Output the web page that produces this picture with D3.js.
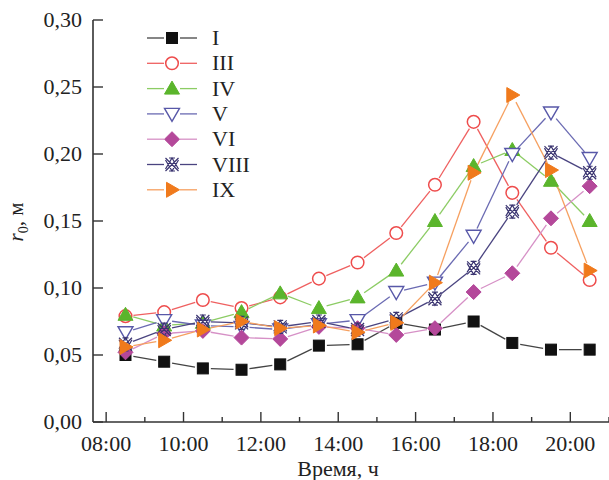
<!DOCTYPE html>
<html>
<head>
<meta charset="utf-8">
<script src="https://cdn.jsdelivr.net/npm/d3@7"></script>
<style>
  body { margin: 0; background: #fff; }
  svg { font-family: "Liberation Serif", "DejaVu Serif", serif; }
</style>
</head>
<body>
<svg id="chart" width="609" height="480"></svg>
<script>
const hours = [8.5, 9.5, 10.5, 11.5, 12.5, 13.5, 14.5, 15.5, 16.5, 17.5, 18.5, 19.5, 20.5];
const xTicks = [8, 10, 12, 14, 16, 18, 20];
const xTickLabels = ["08:00", "10:00", "12:00", "14:00", "16:00", "18:00", "20:00"];
const yTicks = [0, 0.05, 0.10, 0.15, 0.20, 0.25, 0.30];
const yTickLabels = ["0,00", "0,05", "0,10", "0,15", "0,20", "0,25", "0,30"];

const seriesNames = ["I", "III", "IV", "V", "VI", "VIII", "IX"];
const valuesI    = [0.050, 0.045, 0.040, 0.039, 0.043, 0.057, 0.058, 0.074, 0.069, 0.075, 0.059, 0.054, 0.054];
const valuesIII  = [0.079, 0.082, 0.091, 0.085, 0.093, 0.107, 0.119, 0.141, 0.177, 0.224, 0.171, 0.130, 0.106];
const valuesIV   = [0.080, 0.072, 0.074, 0.082, 0.096, 0.085, 0.093, 0.113, 0.150, 0.191, 0.203, 0.180, 0.150];
const valuesV    = [0.067, 0.076, 0.072, 0.071, 0.069, 0.073, 0.076, 0.097, 0.104, 0.139, 0.200, 0.231, 0.197];
const valuesVI   = [0.052, 0.066, 0.068, 0.063, 0.062, 0.071, 0.070, 0.065, 0.070, 0.097, 0.111, 0.152, 0.176];
const valuesVIII = [0.058, 0.069, 0.075, 0.074, 0.071, 0.075, 0.069, 0.077, 0.092, 0.115, 0.157, 0.201, 0.186];
const valuesIX   = [0.056, 0.061, 0.069, 0.075, 0.070, 0.072, 0.067, 0.074, 0.104, 0.186, 0.244, 0.188, 0.113];

const allValues = [valuesI, valuesIII, valuesIV, valuesV, valuesVI, valuesVIII, valuesIX];

// marker style per series
const styles = [
    {shape: "square",   stroke: "#111",    fill: "#111",    line: "#444"},
    {shape: "circle",   stroke: "#ee4c4c", fill: "#fff",    line: "#ef6060"},
    {shape: "triUp",    stroke: "#5bb52c", fill: "#5bb52c", line: "#8ccc64"},
    {shape: "triDown",  stroke: "#5858a8", fill: "#fff",    line: "#6a6ab2"},
    {shape: "diamond",  stroke: "#b4489a", fill: "#b4489a", line: "#d690c6"},
    {shape: "star",     stroke: "#3a3470", fill: "none",    line: "#4a4480"},
    {shape: "triRight", stroke: "#f07a1c", fill: "#f07a1c", line: "#f6a060"}
];

var svg = d3.select("#chart");

var x = d3.scaleLinear().domain([7.66, 21]).range([93, 609]);
var y = d3.scaleLinear().domain([0, 0.30]).range([422, 20]);

// Draw a marker shape centered at cx, cy
function drawMarker(g, shape, cx, cy, st) {
    var s = 6.5;
    if (shape === "square") {
        g.append("rect").attr("x", cx - 5.5).attr("y", cy - 5.5)
            .attr("width", 11).attr("height", 11)
            .attr("fill", st.fill).attr("stroke", st.stroke);
    } else if (shape === "circle") {
        g.append("circle").attr("cx", cx).attr("cy", cy).attr("r", 6.3)
            .attr("fill", st.fill).attr("stroke", st.stroke).attr("stroke-width", 1.5);
    } else if (shape === "triUp") {
        g.append("path")
            .attr("d", `M${cx},${cy - 7.5}L${cx + 7.5},${cy + 5.5}L${cx - 7.5},${cy + 5.5}Z`)
            .attr("fill", st.fill).attr("stroke", st.stroke);
    } else if (shape === "triDown") {
        g.append("path")
            .attr("d", `M${cx - 7.5},${cy - 5.5}L${cx + 7.5},${cy - 5.5}L${cx},${cy + 7.5}Z`)
            .attr("fill", st.fill).attr("stroke", st.stroke).attr("stroke-width", 1.4);
    } else if (shape === "diamond") {
        g.append("path")
            .attr("d", `M${cx},${cy - 7.5}L${cx + 7.5},${cy}L${cx},${cy + 7.5}L${cx - 7.5},${cy}Z`)
            .attr("fill", st.fill).attr("stroke", st.stroke);
    } else if (shape === "star") {
        // crossed hourglass-like marker
        var p = `M${cx - s},${cy - s}L${cx + s},${cy + s}M${cx + s},${cy - s}L${cx - s},${cy + s}` +
            `M${cx - s},${cy - s + 2}L${cx},${cy + s}L${cx + s},${cy - s + 2}` +
            `M${cx - s},${cy + s - 2}L${cx},${cy - s}L${cx + s},${cy + s - 2}` +
            `M${cx - 3},${cy - s}L${cx + 3},${cy - s}M${cx - 3},${cy + s}L${cx + 3},${cy + s}`;
        g.append("path").attr("d", p)
            .attr("fill", "none").attr("stroke", st.stroke).attr("stroke-width", 1.2);
    } else if (shape === "triRight") {
        g.append("path")
            .attr("d", `M${cx - 5.5},${cy - 7.5}L${cx + 7.5},${cy}L${cx - 5.5},${cy + 7.5}Z`)
            .attr("fill", st.fill).attr("stroke", st.stroke);
    }
}

// Axes
var axisColor = "#333";
svg.append("line").attr("x1", 93).attr("x2", 93).attr("y1", 20).attr("y2", 422)
    .attr("stroke", axisColor).attr("stroke-width", 1.6);
svg.append("line").attr("x1", 93).attr("x2", 609).attr("y1", 422).attr("y2", 422)
    .attr("stroke", axisColor).attr("stroke-width", 1.6);

yTicks.forEach((t, i) => {
    svg.append("line").attr("x1", 93).attr("x2", 103)
        .attr("y1", y(t)).attr("y2", y(t))
        .attr("stroke", axisColor).attr("stroke-width", 1.4);
    svg.append("text")
        .attr("x", 82).attr("y", y(t) + 7)
        .attr("text-anchor", "end")
        .style("font-size", "22px")
        .attr("fill", "#222")
        .text(yTickLabels[i]);
});

d3.range(9, 22, 2).forEach(h => {
    svg.append("line").attr("x1", x(h)).attr("x2", x(h))
        .attr("y1", 422).attr("y2", 417)
        .attr("stroke", axisColor).attr("stroke-width", 1.4);
});
xTicks.forEach((t, i) => {
    svg.append("line").attr("x1", x(t)).attr("x2", x(t))
        .attr("y1", 422).attr("y2", 412)
        .attr("stroke", axisColor).attr("stroke-width", 1.4);
    svg.append("text")
        .attr("x", x(t)).attr("y", 451)
        .attr("text-anchor", "middle")
        .style("font-size", "22px")
        .attr("fill", "#222")
        .text(xTickLabels[i]);
});

// Axis titles
svg.append("text")
    .attr("x", 338).attr("y", 476)
    .attr("text-anchor", "middle")
    .style("font-size", "22px")
    .attr("fill", "#222")
    .text("Время, ч");

var yTitle = svg.append("text")
    .attr("transform", "translate(23,222) rotate(-90)")
    .attr("text-anchor", "middle")
    .style("font-size", "21px")
    .attr("fill", "#222");
yTitle.append("tspan").style("font-style", "italic").text("r");
yTitle.append("tspan").attr("dy", 5).style("font-size", "14px").text("0");
yTitle.append("tspan").attr("dy", -5).text(", м");

// Series lines with gaps around markers
var gap = 8;
allValues.forEach((vals, si) => {
    var st = styles[si];
    var pts = hours.map((h, i) => ({x: x(h), y: y(vals[i])}));
    for (var i = 0; i < pts.length - 1; i++) {
        var a = pts[i], b = pts[i + 1];
        var dx = b.x - a.x, dy = b.y - a.y;
        var len = Math.sqrt(dx * dx + dy * dy);
        if (len <= 2 * gap) continue;
        var ux = dx / len, uy = dy / len;
        svg.append("line")
            .attr("x1", a.x + ux * gap).attr("y1", a.y + uy * gap)
            .attr("x2", b.x - ux * gap).attr("y2", b.y - uy * gap)
            .attr("stroke", st.line).attr("stroke-width", 1.3);
    }
});

// Markers
allValues.forEach((vals, si) => {
    var st = styles[si];
    var g = svg.append("g").attr("class", "series");
    hours.forEach((h, i) => drawMarker(g, st.shape, x(h), y(vals[i]), st));
});

// Legend
seriesNames.forEach((name, i) => {
    var st = styles[i];
    var ly = 38 + i * 25.3;
    var g = svg.append("g").attr("class", "legend");
    g.append("line").attr("x1", 147).attr("x2", 164).attr("y1", ly).attr("y2", ly)
        .attr("stroke", st.line).attr("stroke-width", 1.3);
    g.append("line").attr("x1", 180).attr("x2", 197).attr("y1", ly).attr("y2", ly)
        .attr("stroke", st.line).attr("stroke-width", 1.3);
    drawMarker(g, st.shape, 172, ly, st);
    g.append("text")
        .attr("x", 212).attr("y", ly + 7)
        .style("font-size", "22px")
        .attr("fill", "#222")
        .text(name);
});
</script>
</body>
</html>
